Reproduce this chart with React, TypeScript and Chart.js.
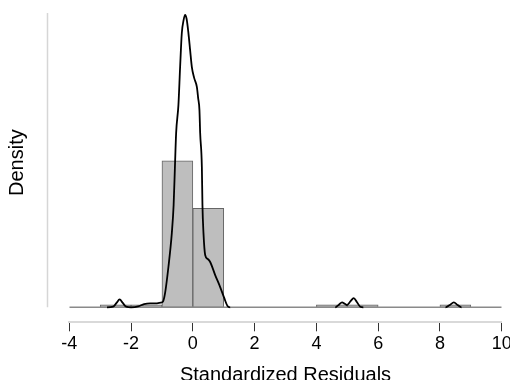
import React, { useEffect, useRef } from "react";
import { Chart, registerables } from "chart.js";

Chart.register(...registerables);

// Histogram bins (width 1), given by centre and density height
const binCenters = [-2.5, -1.5, -0.5, 0.5, 4.5, 5.5, 8.5];
const binDensities = [0.0085, 0.0085, 0.5, 0.338, 0.0085, 0.0085, 0.0085];

// Kernel density curve
const densityX = [
  -3.2, -2.78, -2.58, -2.47, -2.37, -2.27, -2.16, -2.0, -1.77, -1.58, -1.38, -1.16, -1.04, -0.97,
  -0.898, -0.791, -0.68, -0.622, -0.58, -0.541, -0.467, -0.412, -0.357, -0.298, -0.25, -0.201,
  -0.143, -0.088, -0.032, 0.042, 0.13, 0.172, 0.214, 0.237, 0.292, 0.311, 0.344, 0.399, 0.48,
  0.561, 0.723, 0.885, 1.015, 1.122, 1.209, 4.61, 4.73, 4.83, 4.92, 4.99, 5.1, 5.21, 5.31, 5.42,
  5.52, 8.18, 8.32, 8.45, 8.57, 8.7, 9.0,
];
const densityY = [
  0, 0, 0.002, 0.015, 0.027, 0.015, 0.002, 0, 0.003, 0.011, 0.0137, 0.0137, 0.016, 0.019,
  0.049, 0.1375, 0.254, 0.349, 0.479, 0.595, 0.69, 0.82, 0.936, 0.981, 0.998, 0.984,
  0.936, 0.878, 0.82, 0.783, 0.752, 0.714, 0.673, 0.595, 0.479, 0.349, 0.254, 0.1785, 0.165,
  0.1546, 0.11, 0.069, 0.032, 0.0044, 0, 0, 0.009, 0.017, 0.012, 0.0078, 0.02, 0.031, 0.018, 0.002,
  0, 0, 0.008, 0.017, 0.008, 0, 0,
];

const xMin = -4;
const xMax = 10;
const xStep = 2;
const yMin = -0.0512;
const yMax = 1.0044;
const xTitle = "Standardized Residuals";
const yTitle = "Density";

const FONT = "'Liberation Sans', Arial, Helvetica, sans-serif";

// Light y-axis line (drawn from 0 up to the top of the plot, set off to the left)
const yAxisLine = {
  id: "yAxisLine",
  afterLayout(chart: any) {
    // centre the y title on the 0..top span rather than the full scale box
    const y = chart.scales.y;
    y.bottom = y.getPixelForValue(0) + 5;
  },
  beforeDatasetsDraw(chart: any) {
    const { ctx, chartArea, scales } = chart;
    const y = scales.y;
    const x = chartArea.left - 21.8;
    ctx.save();
    ctx.strokeStyle = "#d6d6d6";
    ctx.lineWidth = 1.5;
    ctx.beginPath();
    ctx.moveTo(x, y.getPixelForValue(0));
    ctx.lineTo(x, chartArea.top);
    ctx.stroke();
    ctx.restore();
  },
};

export default function App() {
  const ref = useRef<HTMLCanvasElement | null>(null);

  useEffect(() => {
    if (!ref.current) return;
    const bars = binCenters.map((c, i) => ({ x: c, y: binDensities[i] }));
    const dens = densityX.map((x, i) => ({ x, y: densityY[i] }));
    const base = [
      { x: xMin, y: 0 },
      { x: xMax, y: 0 },
    ];
    const chart = new Chart(ref.current, {
      type: "bar",
      data: {
        datasets: [
          {
            type: "bar",
            data: bars as any,
            backgroundColor: "#bebebe",
            borderColor: "#666666",
            borderWidth: 1,
            borderSkipped: false,
            barPercentage: 1,
            categoryPercentage: 1,
            order: 3,
          } as any,
          {
            type: "line",
            data: base as any,
            borderColor: "#8a8a8a",
            borderWidth: 1.6,
            pointRadius: 0,
            order: 2,
          } as any,
          {
            type: "line",
            data: dens as any,
            borderColor: "#000000",
            borderWidth: 1.8,
            pointRadius: 0,
            cubicInterpolationMode: "monotone",
            segment: {
              borderColor: (c: any) =>
                c.p0.parsed.y === 0 && c.p1.parsed.y === 0 ? "rgba(0,0,0,0)" : "#000000",
            },
            order: 1,
          } as any,
        ],
      },
      options: {
        animation: false,
        responsive: false,
        events: [],
        layout: { padding: { top: 13, right: 8.3, left: 0, bottom: 0 } },
        plugins: { legend: { display: false }, tooltip: { enabled: false } },
        scales: {
          x: {
            type: "linear",
            min: xMin,
            max: xMax,
            offset: false,
            afterFit: (s: any) => {
              s.paddingLeft = 0;
              s.paddingRight = 0;
            },
            ticks: {
              stepSize: xStep,
              padding: 2,
              color: "#000",
              font: { family: FONT, size: 18 },
              maxRotation: 0,
            },
            grid: {
              display: true,
              drawOnChartArea: false,
              drawTicks: true,
              tickLength: 9,
              color: "#333333",
              lineWidth: 1,
              offset: false,
            },
            border: { display: true, color: "#d9d9d9", width: 2 },
            title: {
              display: true,
              text: xTitle,
              color: "#000",
              font: { family: FONT, size: 20 },
              padding: { top: 6.8, bottom: -7.7 },
            },
          },
          y: {
            type: "linear",
            min: yMin,
            max: yMax,
            afterFit: (s: any) => {
              s.paddingTop = 0;
              s.paddingBottom = 0;
            },
            ticks: { display: false },
            grid: { display: false, drawTicks: false },
            border: { display: false },
            title: {
              display: true,
              text: yTitle,
              color: "#000",
              font: { family: FONT, size: 20 },
              padding: { top: 5.6, bottom: 39.7 },
            },
          },
        },
      },
      plugins: [yAxisLine],
    });
    return () => chart.destroy();
  }, []);

  return (
    <div
      style={{
        position: "fixed",
        left: 0,
        top: 0,
        width: 510,
        height: 380,
        overflow: "hidden",
        background: "#fff",
      }}
    >
      <canvas ref={ref} width={510} height={380} style={{ display: "block" }} />
    </div>
  );
}
